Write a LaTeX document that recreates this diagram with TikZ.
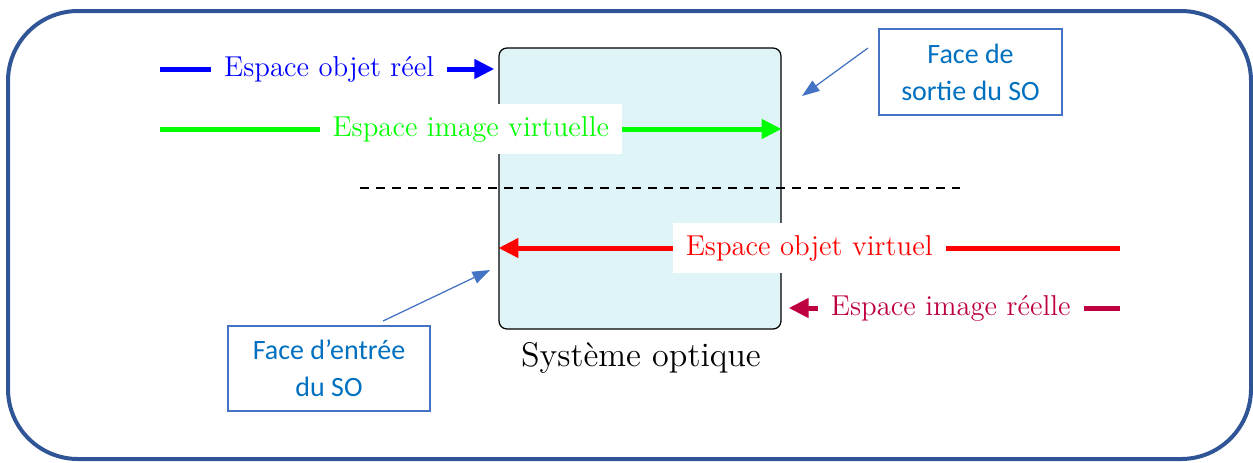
\documentclass[tikz,border=0pt]{standalone}
\usepackage{fontspec}
\newfontfamily\calib{Carlito}
\usetikzlibrary{arrows.meta}
\definecolor{frameblue}{HTML}{2F5597}
\definecolor{boxfill}{HTML}{DFF4F7}
\definecolor{calloutline}{HTML}{4472C4}
\definecolor{callouttext}{HTML}{0070C0}
\begin{document}
\begin{tikzpicture}[x=0.4pt,y=-0.4pt,
  ray/.style={line width=2pt,-{Triangle[length=8pt,width=7.5pt]}},
  raylabel/.style={fill=white,inner xsep=5.2pt,inner ysep=5pt,font=\fontsize{11.5}{13}\selectfont},
  callout/.style={draw=calloutline,line width=1pt,align=center,text=callouttext,
    font=\calib\fontsize{11.2}{14.8}\selectfont},
  pointer/.style={calloutline,line width=0.5pt,-{Triangle[length=7pt,width=5pt]}}]
\useasboundingbox (0,0) rectangle (1253,462);
\draw[frameblue, line width=1.6pt, rounded corners=28pt] (8,11) rectangle (1251,459);
% optical system
\node[draw=black, fill=boxfill, rounded corners=3.2pt, minimum width=112.8pt,
  minimum height=112.4pt, line width=0.5pt, inner sep=0pt] (so) at (640,188.5) {};
\node[font=\fontsize{13.65}{15}\selectfont, inner sep=0pt] (solabel) at (641,358) {Système optique};
% dashed axis
\coordinate (d0) at (360,188);
\coordinate (d1) at (960,188);
\draw[line width=0.6pt, dash pattern=on 3.6pt off 2.8pt] (d0) -- (d1);
% rays
\coordinate (b0) at (160,69);
\coordinate (g0) at (160,129);
\coordinate (r0) at (1120,248);
\coordinate (p0) at (1120,308);
\draw[ray, blue, shorten >=1.6pt] (b0) -- (so.west |- b0)
  node[midway, raylabel, text=blue] (bl) {Espace objet réel};
\draw[ray, green] (g0) -- (so.east |- g0)
  node[midway, raylabel, text=green] (gl) {Espace image virtuelle};
\draw[ray, red] (r0) -- (so.west |- r0)
  node[midway, raylabel, text=red] (rl) {Espace objet virtuel};
\draw[ray, purple, shorten >=2.8pt] (p0) -- (so.east |- p0)
  node[midway, raylabel, text=purple] (pl) {Espace image réelle};
% callouts
\node[callout, minimum width=73.2pt, minimum height=34.4pt] (fds) at (970.5,72) {Face de\\sortie du SO};
\node[callout, minimum width=80.8pt, minimum height=34pt] (fde) at (329,368.5) {Face d’entrée\\du SO};
\coordinate (fdsA) at (868,48);
\coordinate (fdsB) at (802,96);
\coordinate (fdeA) at (383,321);
\coordinate (fdeB) at (490,270);
\draw[pointer] (fdsA) -- (fdsB);
\draw[pointer] (fdeA) -- (fdeB);
\end{tikzpicture}
\end{document}
